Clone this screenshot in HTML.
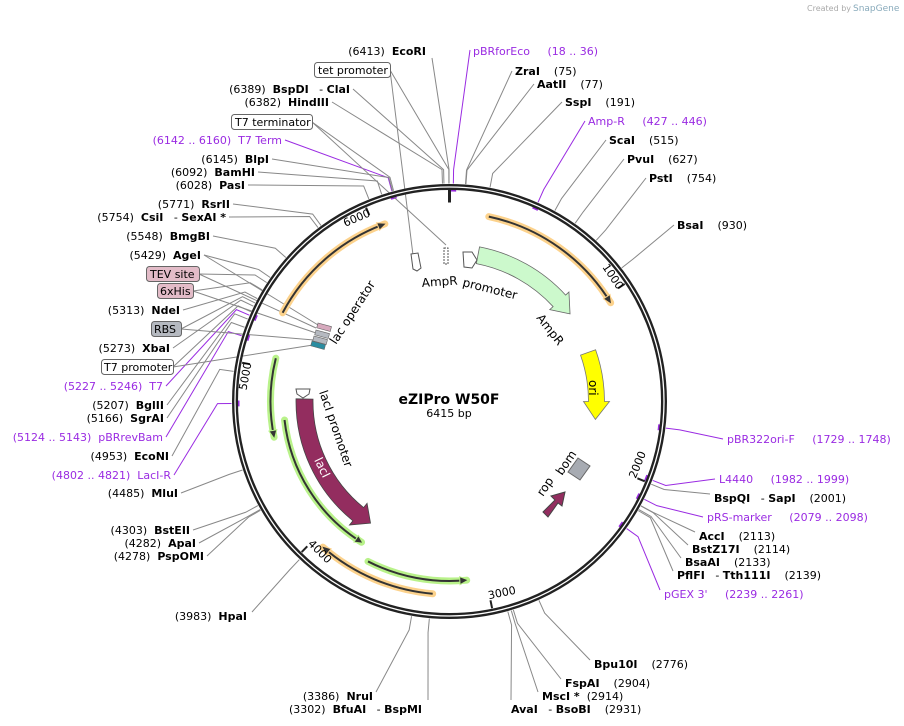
<!DOCTYPE html>
<html><head><meta charset="utf-8">
<style>
html,body{margin:0;padding:0;background:#fff;}
svg{display:block;font-family:"DejaVu Sans","Liberation Sans",sans-serif;font-size:11px;}
text{white-space:pre;}
.b{font-weight:bold;}
.p{fill:#9a2be2;}
</style></head>
<body>
<svg id="s" width="904" height="726" viewBox="0 0 904 726" xmlns="http://www.w3.org/2000/svg" xml:space="preserve">
<g id="lines"></g>
<g id="feat"></g>
<g id="ring"></g>
<text x="807" y="11" font-size="8" fill="#aaa">Created by</text>
<text x="853" y="11" font-size="9" fill="#8ab">SnapGene</text>

<g text-anchor="end">
<text x="426" y="55">(6413)  <tspan class="b">EcoRI</tspan></text>
<text x="350" y="93">(6389)  <tspan class="b">BspDI</tspan>   - <tspan class="b">ClaI</tspan></text>
<text x="329" y="106">(6382)  <tspan class="b">HindIII</tspan></text>
<text x="282" y="144" class="p">(6142 .. 6160)  T7 Term</text>
<text x="269" y="163">(6145)  <tspan class="b">BlpI</tspan></text>
<text x="255" y="176">(6092)  <tspan class="b">BamHI</tspan></text>
<text x="245" y="189">(6028)  <tspan class="b">PasI</tspan></text>
<text x="230" y="208">(5771)  <tspan class="b">RsrII</tspan></text>
<text x="226" y="221">(5754)  <tspan class="b">CsiI</tspan>   - <tspan class="b">SexAI *</tspan></text>
<text x="210" y="240">(5548)  <tspan class="b">BmgBI</tspan></text>
<text x="201" y="259">(5429)  <tspan class="b">AgeI</tspan></text>
<text x="180" y="314">(5313)  <tspan class="b">NdeI</tspan></text>
<text x="170" y="352">(5273)  <tspan class="b">XbaI</tspan></text>
<text x="163" y="390" class="p">(5227 .. 5246)  T7</text>
<text x="164" y="409">(5207)  <tspan class="b">BglII</tspan></text>
<text x="164" y="422">(5166)  <tspan class="b">SgrAI</tspan></text>
<text x="163" y="441" class="p">(5124 .. 5143)  pBRrevBam</text>
<text x="169" y="460">(4953)  <tspan class="b">EcoNI</tspan></text>
<text x="171" y="479" class="p">(4802 .. 4821)  LacI-R</text>
<text x="178" y="497">(4485)  <tspan class="b">MluI</tspan></text>
<text x="190" y="534">(4303)  <tspan class="b">BstEII</tspan></text>
<text x="196" y="547">(4282)  <tspan class="b">ApaI</tspan></text>
<text x="204" y="560">(4278)  <tspan class="b">PspOMI</tspan></text>
<text x="247" y="620">(3983)  <tspan class="b">HpaI</tspan></text>
<text x="373" y="700">(3386)  <tspan class="b">NruI</tspan></text>
<text x="422" y="713">(3302)  <tspan class="b">BfuAI</tspan>   - <tspan class="b">BspMI</tspan></text>
</g>
<g font-size="11">
<rect x="314.5" y="62.5" width="76" height="15" rx="3" fill="#fff" stroke="#666"/><text x="318" y="74">tet promoter</text>
<rect x="231.5" y="114.5" width="81" height="15" rx="3" fill="#fff" stroke="#666"/><text x="235" y="126">T7 terminator</text>
<rect x="146.5" y="266.5" width="53" height="15" rx="3" fill="#e3bcc8" stroke="#666"/><text x="150" y="278">TEV site</text>
<rect x="157.5" y="283.5" width="36" height="15" rx="3" fill="#e3bcc8" stroke="#666"/><text x="160" y="295">6xHis</text>
<rect x="151.5" y="321.5" width="30" height="15" rx="3" fill="#b5b9c0" stroke="#666"/><text x="154" y="333">RBS</text>
<rect x="101.5" y="359.5" width="72" height="15" rx="3" fill="#fff" stroke="#666"/><text x="104" y="371">T7 promoter</text>
</g>
<g>
<text x="473" y="55" class="p">pBRforEco     (18 .. 36)</text>
<text x="515" y="75"><tspan class="b">ZraI</tspan>    (75)</text>
<text x="537" y="88"><tspan class="b">AatII</tspan>    (77)</text>
<text x="565" y="106"><tspan class="b">SspI</tspan>    (191)</text>
<text x="588" y="125" class="p">Amp-R     (427 .. 446)</text>
<text x="609" y="144"><tspan class="b">ScaI</tspan>    (515)</text>
<text x="627" y="163"><tspan class="b">PvuI</tspan>    (627)</text>
<text x="649" y="182"><tspan class="b">PstI</tspan>    (754)</text>
<text x="677" y="229"><tspan class="b">BsaI</tspan>    (930)</text>
<text x="727" y="443" class="p">pBR322ori-F     (1729 .. 1748)</text>
<text x="719" y="483" class="p">L4440     (1982 .. 1999)</text>
<text x="714" y="502"><tspan class="b">BspQI</tspan>   - <tspan class="b">SapI</tspan>    (2001)</text>
<text x="707" y="521" class="p">pRS-marker     (2079 .. 2098)</text>
<text x="699" y="540"><tspan class="b">AccI</tspan>    (2113)</text>
<text x="692" y="553"><tspan class="b">BstZ17I</tspan>    (2114)</text>
<text x="685" y="566"><tspan class="b">BsaAI</tspan>    (2133)</text>
<text x="677" y="579"><tspan class="b">PflFI</tspan>   - <tspan class="b">Tth111I</tspan>    (2139)</text>
<text x="664" y="598" class="p">pGEX 3'     (2239 .. 2261)</text>
<text x="594" y="668"><tspan class="b">Bpu10I</tspan>    (2776)</text>
<text x="565" y="687"><tspan class="b">FspAI</tspan>    (2904)</text>
<text x="542" y="700"><tspan class="b">MscI *</tspan>  (2914)</text>
<text x="511" y="713"><tspan class="b">AvaI</tspan>   - <tspan class="b">BsoBI</tspan>    (2931)</text>
</g>
<g font-size="12">
<text transform="translate(422,287) rotate(-4)">AmpR</text>
<text transform="translate(462,286) rotate(14)">promoter</text>
<text transform="translate(536,318) rotate(52)">AmpR</text>
<text transform="translate(589,380) rotate(90)">ori</text>
<text transform="translate(336,345) rotate(-57)">lac operator</text>
<text transform="translate(319,392) rotate(71)">lacI promoter</text>
<text transform="translate(314,460) rotate(64)" fill="#fff">lacI</text>
<text transform="translate(543,497) rotate(-56)">rop</text>
<text transform="translate(562,476) rotate(-56)">bom</text>
</g>
<text x="449" y="404" text-anchor="middle" font-size="14" font-weight="bold">eZIPro W50F</text>
<text x="449" y="417" text-anchor="middle" font-size="11">6415 bp</text>
<g id="ticks" font-size="11"></g>
</svg>
<script>
var cx=449.5,cy=401.5,N=6415,NS="http://www.w3.org/2000/svg";
function P(a,r){var t=a*Math.PI/180;return [cx+r*Math.sin(t),cy-r*Math.cos(t)];}
function A(p){return p/N*360;}
function el(g,tag,at){var e=document.createElementNS(NS,tag);for(var k in at)e.setAttribute(k,at[k]);document.getElementById(g).appendChild(e);return e;}
function arcD(a1,a2,r){var p1=P(a1,r),p2=P(a2,r);var large=Math.abs(a2-a1)>180?1:0;var sw=a2>a1?1:0;return "M"+p1[0]+" "+p1[1]+" A"+r+" "+r+" 0 "+large+" "+sw+" "+p2[0]+" "+p2[1];}
el("ring","circle",{cx:cx,cy:cy,r:214.5,fill:"none",stroke:"#222","stroke-width":6});
el("ring","circle",{cx:cx,cy:cy,r:214.5,fill:"none",stroke:"#fff","stroke-width":1.3});
var t0a=P(0,212),t0b=P(0,199);el("ring","line",{x1:t0a[0],y1:t0a[1],x2:t0b[0],y2:t0b[1],stroke:"#222","stroke-width":3});
[1000,2000,3000,4000,5000,6000].forEach(function(v){var a=A(v);var q1=P(a,211),q2=P(a,203);
el("ticks","line",{x1:q1[0],y1:q1[1],x2:q2[0],y2:q2[1],stroke:"#222","stroke-width":2});
var top=(a<90||a>270);var lp=P(a-3.6,202);var rot=top?a:a-180;
var t=el("ticks","text",{transform:"translate("+lp[0]+","+lp[1]+") rotate("+rot+")","text-anchor":"middle"});t.textContent=v;});
var L=[[6413,432,58],[6412,390,70],[6389,353,89],[6382,332,102],[6150,312,122],[6142,285,140,1],[6145,272,159],[6092,258,172],[6028,248,185],[5771,233,204],[5754,229,217],[5548,213,236],[5429,204,255],[5400,199,274],[5360,193,291],[5313,183,310],[5290,181,329],[5273,173,348],[5245,173,367],[5227,166,386,1],[5207,167,405],[5166,167,418],[5124,166,437,1],[4953,172,456],[4802,174,475,1],[4485,181,493],[4303,193,530],[4282,199,543],[4278,207,556],[3983,252,612],[3386,376,692],[3302,428,700],
[18,470,50,1],[75,512,71],[77,534,84],[191,562,102],[427,585,121,1],[515,606,140],[627,624,159],[754,646,178],[930,674,225],[1729,723,439,1],[1982,715,479,1],[2001,710,494],[2079,703,517,1],[2113,695,532],[2114,688,545],[2133,681,558],[2139,673,571],[2239,660,590,1],[2776,590,660],[2904,561,679],[2914,538,692],[2931,511,700]];
L.forEach(function(l){var a=A(l[0]);var r1=P(a,218),r2=P(a,232);var c=l[3]?"#9a2be2":"#888";
el("lines","polyline",{points:r1[0]+","+r1[1]+" "+r2[0]+","+r2[1]+" "+l[1]+","+l[2],fill:"none",stroke:c,"stroke-width":1});
if(l[3]){var m1=P(a-0.8,211),m2=P(a+0.8,211);el("lines","line",{x1:m1[0],y1:m1[1],x2:m2[0],y2:m2[1],stroke:c,"stroke-width":2});}});
[[390,70,413,255],[312,122,446,245],[199,274,316,328],[193,291,316,333],[181,329,314,340],[173,367,313,345],[204,255,318,325]].forEach(function(l){el("lines","line",{x1:l[0],y1:l[1],x2:l[2],y2:l[3],stroke:"#888","stroke-width":1});});
function thin(a1,a2,r,hl){var d=arcD(a1,a2,r);
el("feat","path",{d:d,fill:"none",stroke:hl,"stroke-width":7,"stroke-linecap":"round"});
el("feat","path",{d:d,fill:"none",stroke:"#333","stroke-width":2});
var dir=a2>a1?1:-1;var tip=P(a2+dir*0.6,r),b1=P(a2-dir*2.2,r+4),b2=P(a2-dir*2.2,r-4);
el("feat","polygon",{points:tip+" "+b1+" "+b2,fill:"#333",stroke:hl,"stroke-width":1});}
thin(12,58.5,189,"#fcd28c");thin(298,340,189,"#fcd28c");thin(185,221,193,"#fcd28c");
thin(284,258.5,179,"#b9f28a");thin(263.6,212,166,"#b9f28a");thin(207,174.5,179.5,"#b9f28a");
function thick(a1,a2,r,w,hw,headDeg,fill,stroke){var dir=a2>a1?1:-1;var ab=a2-dir*headDeg;
var o1=P(a1,r+w/2),o2=P(ab,r+w/2),i2=P(ab,r-w/2),i1=P(a1,r-w/2),h1=P(ab,r+hw),h2=P(ab,r-hw),tp=P(a2,r);
var sw=dir>0?1:0,sw2=dir>0?0:1;
var d="M"+o1+" A"+(r+w/2)+" "+(r+w/2)+" 0 0 "+sw+" "+o2+" L"+h1+" L"+tp+" L"+h2+" L"+i2+" A"+(r-w/2)+" "+(r-w/2)+" 0 0 "+sw2+" "+i1+" Z";
el("feat","path",{d:d,fill:fill,stroke:stroke,"stroke-width":0.8});}
thick(11,54,149,17,13,6.5,"#ccf9cc","#666");
thick(70.5,97,147,16,13,7,"#ffff00","#777");
thick(271,213,145,17,14,6,"#932d5f","#444");
el("feat","polygon",{points:"411,254 418,253 421,268 417,271 413,269",fill:"#fff",stroke:"#555"});
el("feat","rect",{x:444,y:248,width:4,height:16,fill:"#fff",stroke:"#555","stroke-dasharray":"2,1"});
el("feat","polygon",{points:"463,252 472,252 477,260 472,268 464,267",fill:"#fff",stroke:"#555"});
el("feat","polygon",{points:"296,389 310,389 309,394 303,398 297,394",fill:"#fff",stroke:"#555"});
el("feat","polygon",{points:"543,512 555,500 551,496 565,492 562,506 558,503 548,517",fill:"#932d5f",stroke:"#444"});
el("feat","polygon",{points:"568,472 578,458 590,466 580,480",fill:"#a7abb2",stroke:"#666"});
[["#d6a9bd",318,323],["#b5b9c0",316,330],["#b5b9c0",314,336],["#2a8ca0",312,341]].forEach(function(s){el("feat","rect",{x:s[1],y:s[2],width:14,height:5,fill:s[0],stroke:"#666","stroke-width":0.6,transform:"rotate(15 "+s[1]+" "+s[2]+")"});});
</script>
</body></html>
